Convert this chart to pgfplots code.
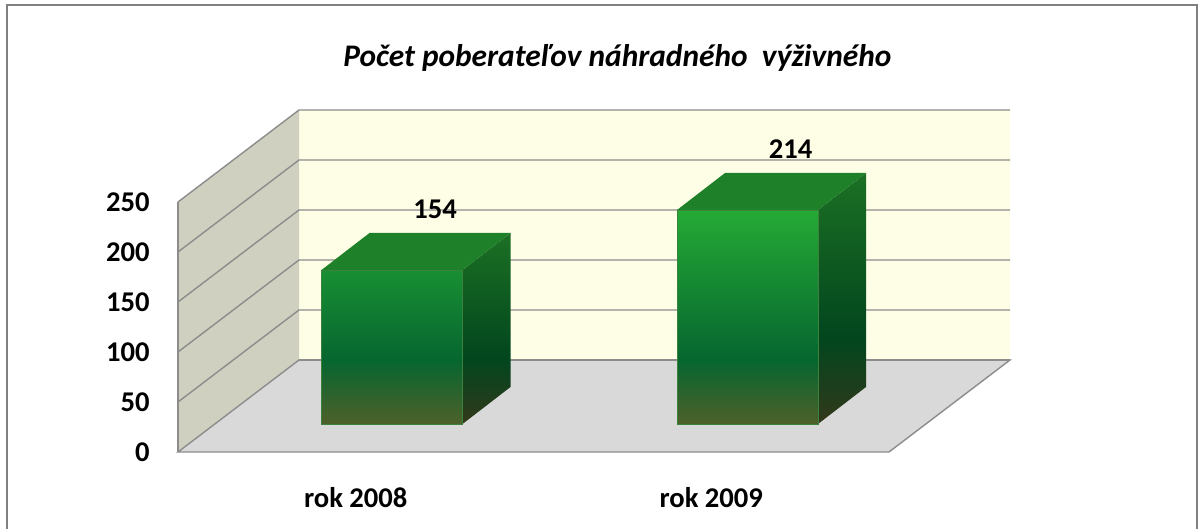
\documentclass[border=0pt]{standalone}
\usepackage{pgfplots}
\pgfplotsset{compat=1.18}
\usepackage{pgfplotstable}
\usepackage{fontspec}
\setmainfont{Carlito}

\definecolor{backwall}{RGB}{254,254,230}
\definecolor{leftwall}{RGB}{208,208,192}
\definecolor{floorc}{RGB}{217,217,217}
\definecolor{gridc}{RGB}{140,140,140}
\definecolor{framec}{RGB}{128,128,128}
\definecolor{ftop}{RGB}{37,170,53}
\definecolor{fmid}{RGB}{6,102,48}
\definecolor{fbot}{RGB}{78,96,42}
\definecolor{stop}{RGB}{28,112,36}
\definecolor{smid}{RGB}{2,70,30}
\definecolor{sbot}{RGB}{50,56,26}
\definecolor{topc}{RGB}{30,128,40}
\definecolor{edgec}{RGB}{60,130,60}

\pgfdeclareverticalshading{barfront}{100bp}{color(0bp)=(fbot); color(25bp)=(fbot); color(40bp)=(fmid); color(75bp)=(ftop); color(100bp)=(ftop)}
\pgfdeclareverticalshading{barside}{100bp}{color(0bp)=(sbot); color(25bp)=(sbot); color(42bp)=(smid); color(75bp)=(stop); color(100bp)=(stop)}

\pgfplotstableread{
x v
392 154
747.5 214
}\bardata

\begin{document}%
\begin{tikzpicture}
\pgfplotstablegetelem{0}{x}\of\bardata \let\xa\pgfplotsretval
\pgfplotstablegetelem{0}{v}\of\bardata \let\va\pgfplotsretval
\pgfplotstablegetelem{1}{x}\of\bardata \let\xb\pgfplotsretval
\pgfplotstablegetelem{1}{v}\of\bardata \let\vb\pgfplotsretval
\pgfmathsetmacro\xaL{\xa-70.5}\pgfmathsetmacro\xaR{\xa+70.5}
\pgfmathsetmacro\xaLb{\xa-70.5+48}\pgfmathsetmacro\xaRb{\xa+70.5+48}
\pgfmathsetmacro\vaT{\va+37}
\pgfmathsetmacro\xbL{\xb-70.5}\pgfmathsetmacro\xbR{\xb+70.5}
\pgfmathsetmacro\xbLb{\xb-70.5+48}\pgfmathsetmacro\xbRb{\xb+70.5+48}
\pgfmathsetmacro\vbT{\vb+37}
\begin{axis}[
 x=0.5pt, y=0.5pt,
 xmin=0, xmax=1204, ymin=-105, ymax=424,
 clip=false,
 axis on top,
 axis line style={draw=none},
 major tick length=0pt,
 ytick={-28,22,72,122,172,222}, yticklabels={0,50,100,150,200,250},
 xtick={355.75,711.25}, xticklabels={rok 2008,rok 2009},
 ticklabel style={font=\fontsize{14.3}{16}\selectfont\bfseries},
 yticklabel style={anchor=east, inner sep=0pt, xshift=75pt},
 xticklabel style={anchor=base, inner sep=0pt, yshift=10.5pt},
 /pgf/number format/assume math mode=true,
]
% background and frame
\addplot[fill=white, draw=none] coordinates {(0,-105)(1204,-105)(1204,424)(0,424)} -- cycle;
\addplot[framec, line width=1pt] coordinates {(7,-105)(7,419)(1197,419)(1197,-105)};
% walls and floor
\addplot[fill=backwall, draw=none] coordinates {(299,64)(1010,64)(1010,314)(299,314)} -- cycle;
\addplot[fill=leftwall, draw=none] coordinates {(178,-28)(178,222)(299,314)(299,64)} -- cycle;
\addplot[fill=floorc, draw=gridc, line width=0.7pt] coordinates {(178,-28)(889,-28)(1010,64)(299,64)} -- cycle;
\addplot[gridc, line width=0.7pt] coordinates {(178,-28)(178,222)};
% gridlines
\addplot[gridc, line width=0.7pt] coordinates {(299,64)(1010,64)};
\addplot[gridc, line width=0.7pt] coordinates {(178,22)(299,114)(1010,114)};
\addplot[gridc, line width=0.7pt] coordinates {(178,72)(299,164)(1010,164)};
\addplot[gridc, line width=0.7pt] coordinates {(178,122)(299,214)(1010,214)};
\addplot[gridc, line width=0.7pt] coordinates {(178,172)(299,264)(1010,264)};
\addplot[gridc, line width=0.7pt] coordinates {(178,222)(299,314)(1010,314)};
% bar side and top faces
\addplot[shade, shading=barside, draw=none] coordinates {(\xaR,0)(\xaR,\va)(\xaRb,\vaT)(\xaRb,37)} -- cycle;
\addplot[fill=topc, draw=none] coordinates {(\xaL,\va)(\xaR,\va)(\xaRb,\vaT)(\xaLb,\vaT)} -- cycle;
\addplot[shade, shading=barside, draw=none] coordinates {(\xbR,0)(\xbR,\vb)(\xbRb,\vbT)(\xbRb,37)} -- cycle;
\addplot[fill=topc, draw=none] coordinates {(\xbL,\vb)(\xbR,\vb)(\xbRb,\vbT)(\xbLb,\vbT)} -- cycle;
% bar front faces with value labels
\addplot[ybar, bar width=141, shade, shading=barfront, draw=edgec, line width=0.3pt,
  nodes near coords,
  every node near coord/.append style={font=\fontsize{14.3}{16}\selectfont\bfseries, text=black, anchor=base, inner sep=0pt, xshift=21.5pt, yshift=25.5pt},
  /pgf/number format/assume math mode=true]
  table[x=x, y=v] {\bardata};
% title
\node[anchor=base, font=\fontsize{15.7}{17}\selectfont\bfseries\itshape] at (axis cs:617.5,357) {Počet poberateľov náhradného\ \ výživného};
\coordinate (bbll) at (axis cs:0,-105);
\coordinate (bbur) at (axis cs:1204,424);
\end{axis}
\pgfresetboundingbox
\path[use as bounding box] (bbll) rectangle (bbur);
\end{tikzpicture}%
\end{document}
